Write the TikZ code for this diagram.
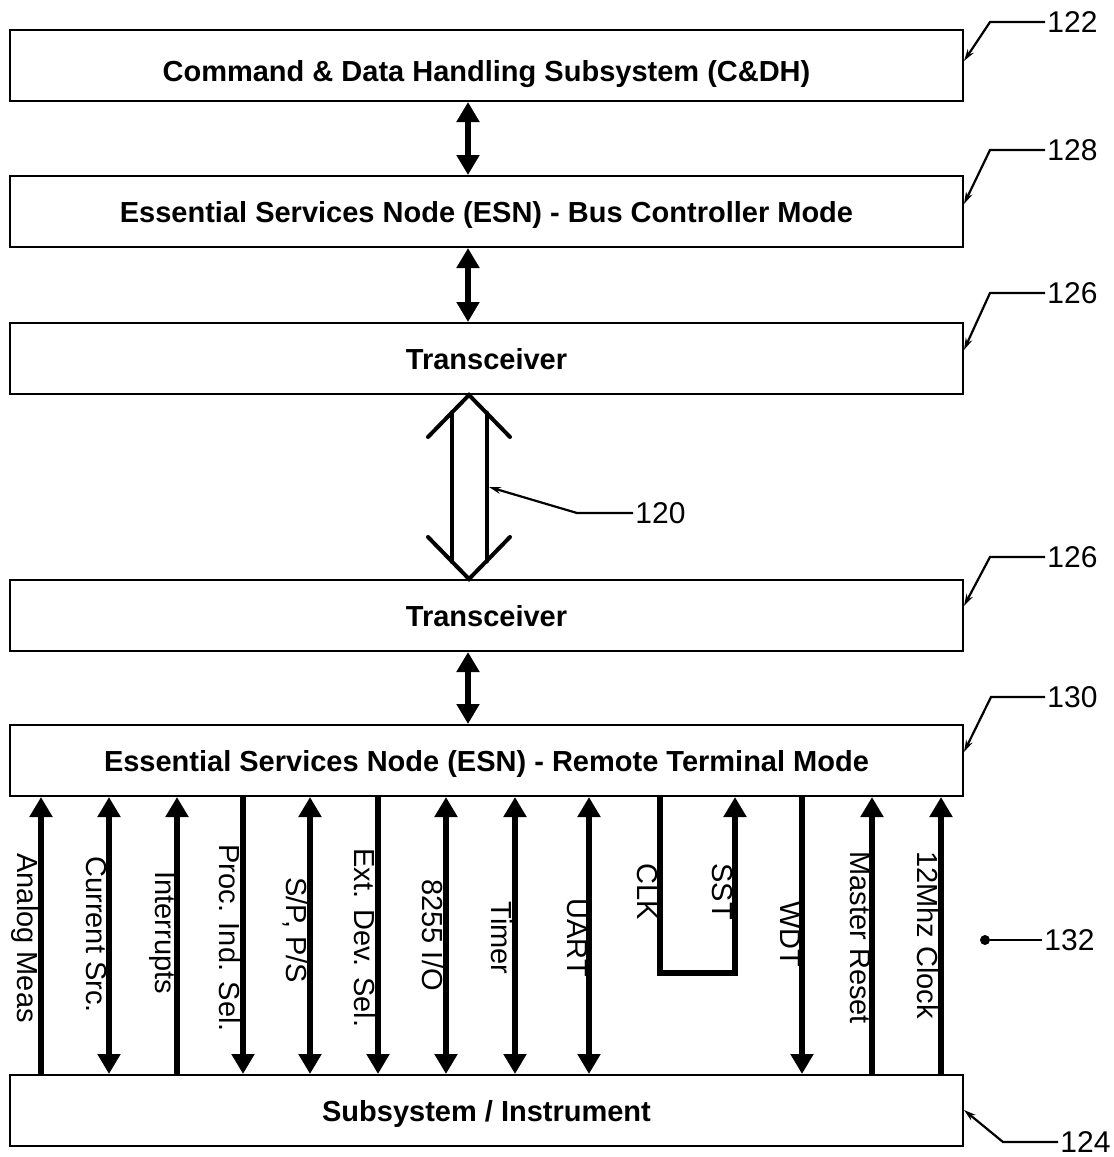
\documentclass[tikz,border=0pt]{standalone}
\usepackage{fontspec}
\setmainfont{Liberation Sans}
\usetikzlibrary{arrows.meta,positioning}

\begin{document}
\begin{tikzpicture}[x=0.5pt, y=-0.5pt, every node/.style={font=\fontsize{14.5}{17}\selectfont},
  box/.style={draw, line width=1pt, minimum width=476.5pt, minimum height=35.5pt, inner sep=0pt, text height=11.4pt, text depth=0pt, font=\bfseries\fontsize{14.5}{17}\selectfont},
  sig/.style={line width=2.8pt},
  sigup/.style={sig, {Triangle[length=10pt,width=11pt]}-},
  sigdn/.style={sig, -{Triangle[length=10pt,width=11pt]}},
  sigbi/.style={sig, {Triangle[length=10pt,width=11pt]}-{Triangle[length=10pt,width=11pt]}},
  siglbl/.style={rotate=-90, anchor=north west, inner sep=0pt},
  hollow/.style={line width=2pt, line cap=round},
  lead/.style={line width=1.1pt, -{Stealth[length=6pt,width=3.5pt]}},
  refno/.style={anchor=west, inner sep=1pt, font=\fontsize{15}{17}\selectfont}]
\useasboundingbox (0,0) rectangle (1114,1157);
\node[box, text height=16.4pt] (cdh) at (486.5,65.5) {Command \& Data Handling Subsystem (C\&DH)};
\node[box, below=36.5pt of cdh] (esnbc) {Essential Services Node (ESN) - Bus Controller Mode};
\node[box, below=37pt of esnbc] (xcvra) {Transceiver};
\node[box, below=92pt of xcvra] (xcvrb) {Transceiver};
\node[box, below=36pt of xcvrb] (esnrt) {Essential Services Node (ESN) - Remote Terminal Mode};
\node[box, below=138.5pt of esnrt] (subsys) {Subsystem / Instrument};
\draw[sigbi] ([xshift=-9.25pt]cdh.south) -- ([xshift=-9.25pt]esnbc.north);
\draw[sigbi] ([xshift=-9.25pt]esnbc.south) -- ([xshift=-9.25pt]xcvra.north);
\draw[sigbi] ([xshift=-9.25pt]xcvrb.south) -- ([xshift=-9.25pt]esnrt.north);
% bus between the transceivers
\coordinate (htop) at ([xshift=-8.75pt]xcvra.south);
\coordinate (hbot) at ([xshift=-8.75pt]xcvrb.north);
\draw[hollow] ([shift={(-20.5pt,-21pt)}]htop) -- (htop) -- ([shift={(20.5pt,-21pt)}]htop);
\draw[hollow] ([shift={(-20.5pt,21pt)}]hbot) -- (hbot) -- ([shift={(20.5pt,21pt)}]hbot);
\draw[hollow] ([shift={(-8.5pt,-8.5pt)}]htop) -- ([shift={(-8.5pt,8.5pt)}]hbot);
\draw[hollow] ([shift={(8.75pt,-8.75pt)}]htop) -- ([shift={(8.75pt,8.75pt)}]hbot);
% signal lines
\foreach \o/\d/\t/\s [count=\i] in {16/sigup/28/Analog Meas, 50/sigbi/29.5/Current Src., 84/sigup/37/Interrupts,
  117/sigdn/23.5/Proc. Ind. Sel., 150.5/sigbi/40/{S/P, P/S}, 184.5/sigdn/25.5/Ext. Dev. Sel., 218.5/sigbi/41/{8255 I/O},
  253/sigbi/52/Timer, 290/sigbi/50.5/UART, 396.5/sigdn/52/WDT, 431.5/sigup/27/Master Reset, 466/sigup/27/12Mhz Clock} {
  \draw[\d] ([xshift=\o pt]esnrt.south west) -- ([xshift=\o pt]subsys.north west);
  \node[siglbl] (sl\i) at ([xshift=\o pt-0.8pt, yshift=-\t pt]esnrt.south west) {\s};
}
\draw[sig, -{Triangle[length=10pt,width=11pt]}] ([xshift=325.5pt]esnrt.south west) -- ++(0pt,-88pt) -| ([xshift=363pt]esnrt.south west);
\node[siglbl] (clk) at ([xshift=324.7pt, yshift=-33pt]esnrt.south west) {CLK};
\node[siglbl] (sst) at ([xshift=362.2pt, yshift=-33pt]esnrt.south west) {SST};
% reference numerals
\coordinate (c120) at (489,487);
\node[refno] (n120) at (633,513) {120};
\draw[lead] (n120.west) -- ++(-28pt,0pt) -- (c120);
\node[refno] (n122) at (1045,22) {122};
\draw[lead] (n122.west) -- ++(-27.5pt,0pt) -- ([yshift=-16pt]cdh.north east);
\node[refno] (n128) at (1045,150) {128};
\draw[lead] (n128.west) -- ++(-27.5pt,0pt) -- ([yshift=-14.5pt]esnbc.north east);
\node[refno] (n126a) at (1045,293) {126};
\draw[lead] (n126a.west) -- ++(-27.5pt,0pt) -- ([yshift=-14pt]xcvra.north east);
\node[refno] (n126b) at (1045,557) {126};
\draw[lead] (n126b.west) -- ++(-27.5pt,0pt) -- ([yshift=-13.5pt]xcvrb.north east);
\node[refno] (n130) at (1045,697) {130};
\draw[lead] (n130.west) -- ++(-27pt,0pt) -- ([yshift=-14pt]esnrt.north east);
\node[refno] (n124) at (1058,1142) {124};
\draw[lead] (n124.west) -- ++(-27.5pt,0pt) -- ([yshift=-18pt]subsys.north east);
\node[circle, fill, inner sep=0pt, minimum size=5pt] (d132) at (985,940) {};
\node[refno] (n132) at (1042,940) {132};
\draw[line width=1.1pt] (d132) -- (n132.west);
\end{tikzpicture}
\end{document}
